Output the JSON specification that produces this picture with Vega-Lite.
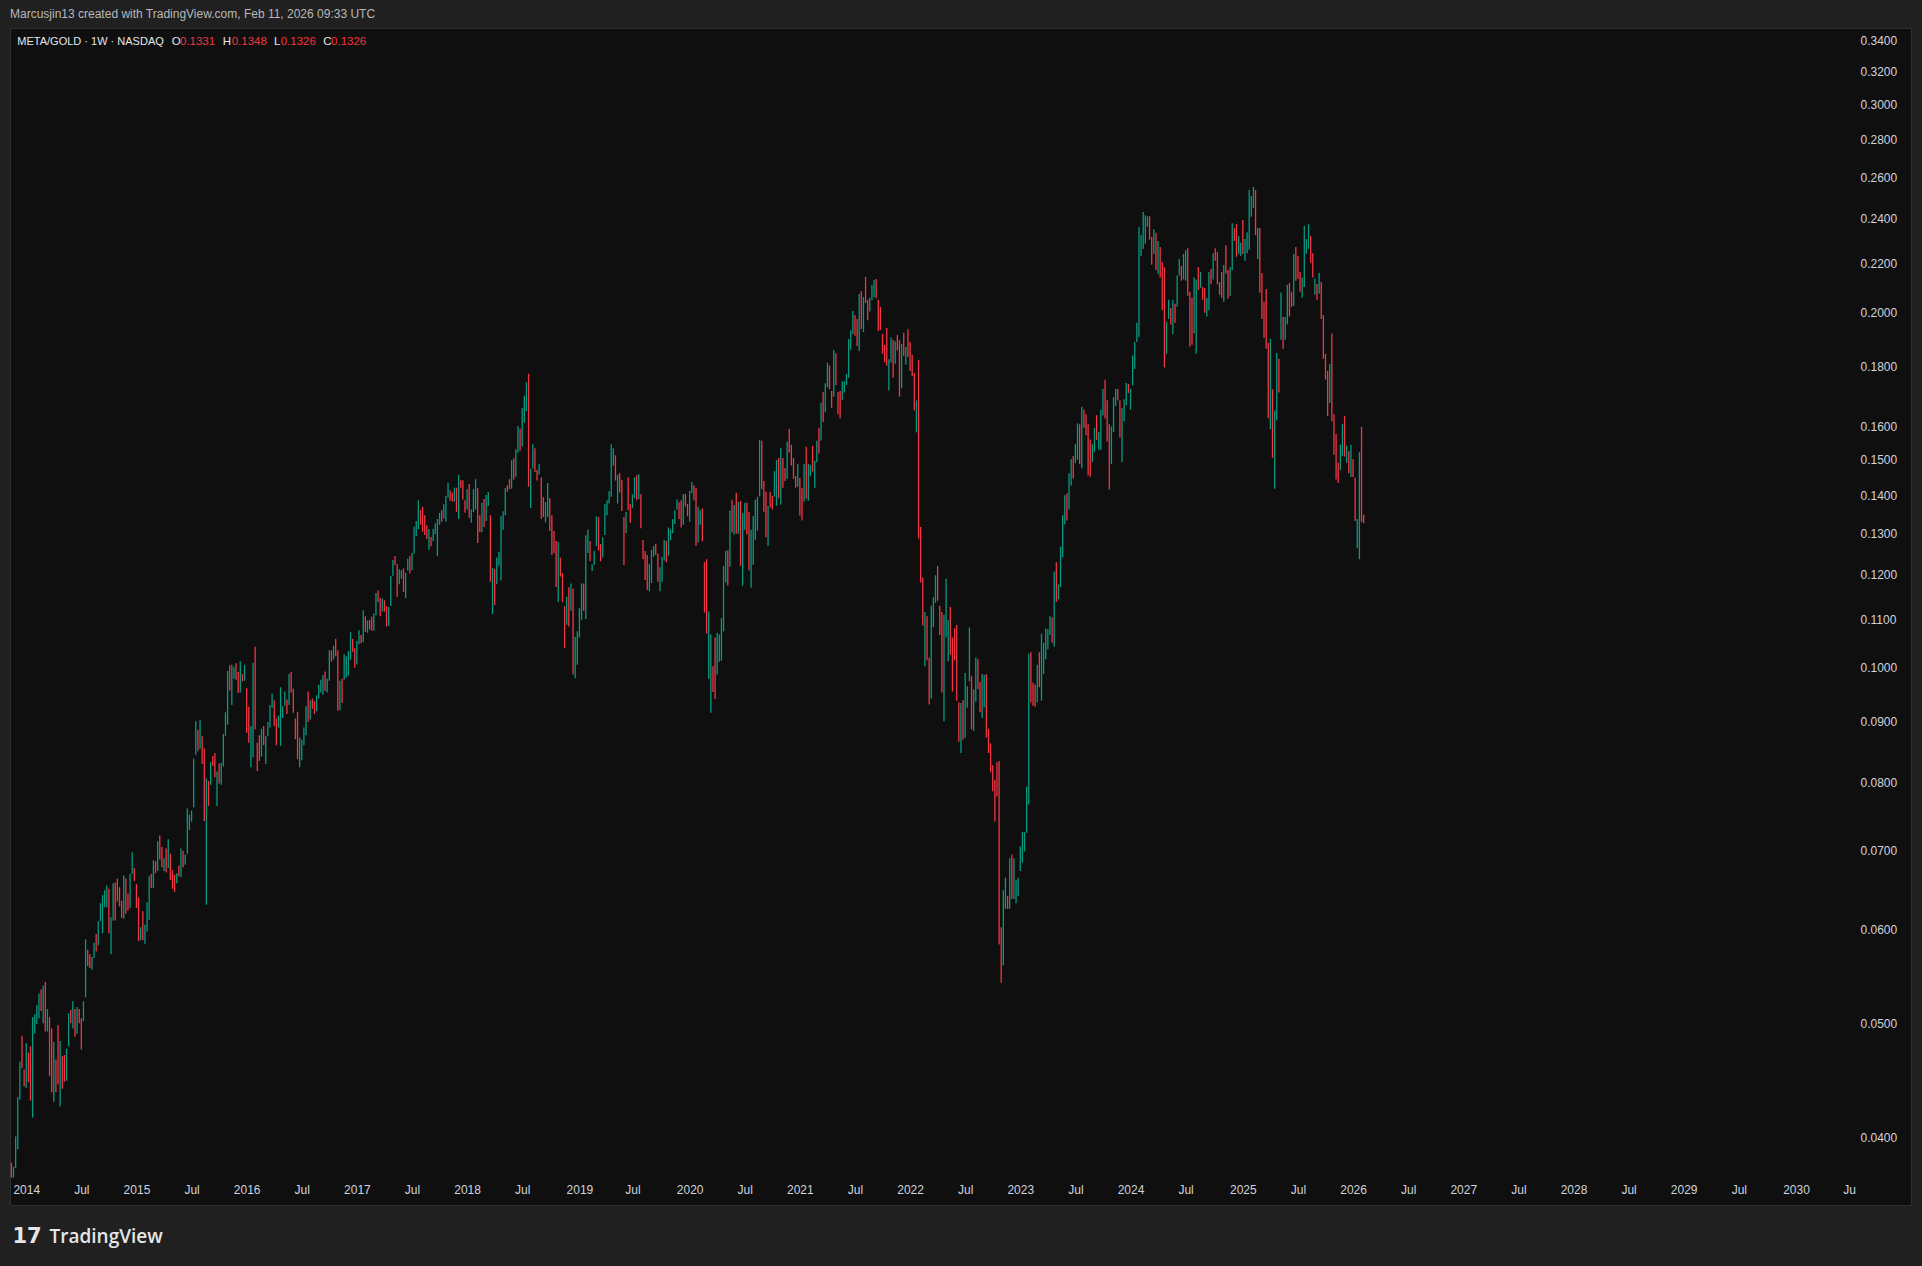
{
"$schema":"https://vega.github.io/schema/vega-lite/v6.json",
"width":1901,"height":1177,
"autosize":{"type":"none"},
"padding":{"left":10,"top":28,"right":11,"bottom":61},
"background":"#202020",
"view":{"fill":"#0f0f0f","stroke":"#2e2e2e"},
"title":{"text":"Marcusjin13 created with TradingView.com, Feb 11, 2026 09:33 UTC","anchor":"start","frame":"group","offset":7,"fontSize":12,"font":"Liberation Sans","fontWeight":"normal","color":"#b8b8b8"},
"config":{"text":{"font":"Liberation Sans","fontSize":11.5,"align":"left","baseline":"middle"}},
"datasets":{"bars":[
{"t":"2013-11-18","o":0.0381,"h":0.0381,"l":0.037,"c":0.037},
{"t":"2013-11-25","o":0.037,"h":0.0378,"l":0.037,"c":0.0378},
{"t":"2013-12-02","o":0.0377,"h":0.0401,"l":0.0377,"c":0.0401},
{"t":"2013-12-09","o":0.0391,"h":0.0433,"l":0.0391,"c":0.0433},
{"t":"2013-12-16","o":0.0431,"h":0.0464,"l":0.0431,"c":0.0464},
{"t":"2013-12-23","o":0.0488,"h":0.0488,"l":0.0458,"c":0.0458},
{"t":"2013-12-30","o":0.0457,"h":0.0457,"l":0.0442,"c":0.0442},
{"t":"2014-01-06","o":0.0441,"h":0.0481,"l":0.0441,"c":0.0481},
{"t":"2014-01-13","o":0.0472,"h":0.0472,"l":0.0446,"c":0.0446},
{"t":"2014-01-20","o":0.0478,"h":0.0478,"l":0.043,"c":0.043},
{"t":"2014-01-27","o":0.0416,"h":0.0506,"l":0.0416,"c":0.0506},
{"t":"2014-02-03","o":0.049,"h":0.0509,"l":0.049,"c":0.0509},
{"t":"2014-02-10","o":0.0499,"h":0.0518,"l":0.0499,"c":0.0518},
{"t":"2014-02-17","o":0.0505,"h":0.053,"l":0.0505,"c":0.053},
{"t":"2014-02-24","o":0.0534,"h":0.0534,"l":0.0512,"c":0.0512},
{"t":"2014-03-03","o":0.05,"h":0.0538,"l":0.05,"c":0.0538},
{"t":"2014-03-10","o":0.0542,"h":0.0542,"l":0.0492,"c":0.0492},
{"t":"2014-03-17","o":0.0492,"h":0.0514,"l":0.0492,"c":0.0514},
{"t":"2014-03-24","o":0.0506,"h":0.0506,"l":0.0451,"c":0.0451},
{"t":"2014-03-31","o":0.0495,"h":0.0495,"l":0.0437,"c":0.0437},
{"t":"2014-04-07","o":0.0429,"h":0.0482,"l":0.0429,"c":0.0482},
{"t":"2014-04-14","o":0.0466,"h":0.0466,"l":0.0437,"c":0.0437},
{"t":"2014-04-21","o":0.0498,"h":0.0498,"l":0.0444,"c":0.0444},
{"t":"2014-04-28","o":0.0425,"h":0.0483,"l":0.0425,"c":0.0483},
{"t":"2014-05-05","o":0.0469,"h":0.0469,"l":0.044,"c":0.044},
{"t":"2014-05-12","o":0.047,"h":0.047,"l":0.0446,"c":0.0446},
{"t":"2014-05-19","o":0.0447,"h":0.0476,"l":0.0447,"c":0.0476},
{"t":"2014-05-26","o":0.0478,"h":0.051,"l":0.0478,"c":0.051},
{"t":"2014-06-02","o":0.0513,"h":0.0513,"l":0.05,"c":0.05},
{"t":"2014-06-09","o":0.0495,"h":0.0522,"l":0.0495,"c":0.0522},
{"t":"2014-06-16","o":0.0514,"h":0.0514,"l":0.0487,"c":0.0487},
{"t":"2014-06-23","o":0.049,"h":0.0516,"l":0.049,"c":0.0516},
{"t":"2014-06-30","o":0.0514,"h":0.0514,"l":0.05,"c":0.05},
{"t":"2014-07-07","o":0.0505,"h":0.0505,"l":0.0475,"c":0.0475},
{"t":"2014-07-14","o":0.0502,"h":0.0522,"l":0.0502,"c":0.0522},
{"t":"2014-07-21","o":0.0526,"h":0.0589,"l":0.0526,"c":0.0589},
{"t":"2014-07-28","o":0.0577,"h":0.0577,"l":0.0559,"c":0.0559},
{"t":"2014-08-04","o":0.0572,"h":0.0572,"l":0.0557,"c":0.0557},
{"t":"2014-08-11","o":0.0555,"h":0.0569,"l":0.0555,"c":0.0569},
{"t":"2014-08-18","o":0.0568,"h":0.0585,"l":0.0568,"c":0.0585},
{"t":"2014-08-25","o":0.0595,"h":0.0595,"l":0.0575,"c":0.0575},
{"t":"2014-09-01","o":0.0582,"h":0.061,"l":0.0582,"c":0.061},
{"t":"2014-09-08","o":0.061,"h":0.0632,"l":0.061,"c":0.0632},
{"t":"2014-09-15","o":0.0596,"h":0.0642,"l":0.0596,"c":0.0642},
{"t":"2014-09-22","o":0.0627,"h":0.0648,"l":0.0627,"c":0.0648},
{"t":"2014-09-29","o":0.0627,"h":0.0654,"l":0.0627,"c":0.0654},
{"t":"2014-10-06","o":0.065,"h":0.065,"l":0.0596,"c":0.0596},
{"t":"2014-10-13","o":0.0572,"h":0.0615,"l":0.0572,"c":0.0615},
{"t":"2014-10-20","o":0.0611,"h":0.0657,"l":0.0611,"c":0.0657},
{"t":"2014-10-27","o":0.0658,"h":0.0658,"l":0.0611,"c":0.0611},
{"t":"2014-11-03","o":0.0663,"h":0.0663,"l":0.0634,"c":0.0634},
{"t":"2014-11-10","o":0.0652,"h":0.0652,"l":0.0628,"c":0.0628},
{"t":"2014-11-17","o":0.0635,"h":0.0635,"l":0.0614,"c":0.0614},
{"t":"2014-11-24","o":0.0613,"h":0.0667,"l":0.0613,"c":0.0667},
{"t":"2014-12-01","o":0.0663,"h":0.0663,"l":0.0619,"c":0.0619},
{"t":"2014-12-08","o":0.0644,"h":0.0644,"l":0.0623,"c":0.0623},
{"t":"2014-12-15","o":0.0626,"h":0.0669,"l":0.0626,"c":0.0669},
{"t":"2014-12-22","o":0.0669,"h":0.0698,"l":0.0669,"c":0.0698},
{"t":"2014-12-29","o":0.0677,"h":0.0677,"l":0.066,"c":0.066},
{"t":"2015-01-05","o":0.0656,"h":0.0656,"l":0.0626,"c":0.0626},
{"t":"2015-01-12","o":0.0639,"h":0.0639,"l":0.0587,"c":0.0587},
{"t":"2015-01-19","o":0.0588,"h":0.0603,"l":0.0588,"c":0.0603},
{"t":"2015-01-26","o":0.0622,"h":0.0622,"l":0.0588,"c":0.0588},
{"t":"2015-02-02","o":0.0584,"h":0.0606,"l":0.0584,"c":0.0606},
{"t":"2015-02-09","o":0.0598,"h":0.0633,"l":0.0598,"c":0.0633},
{"t":"2015-02-16","o":0.0612,"h":0.0666,"l":0.0612,"c":0.0666},
{"t":"2015-02-23","o":0.0669,"h":0.0669,"l":0.0651,"c":0.0651},
{"t":"2015-03-02","o":0.0651,"h":0.0687,"l":0.0651,"c":0.0687},
{"t":"2015-03-09","o":0.0686,"h":0.0686,"l":0.067,"c":0.067},
{"t":"2015-03-16","o":0.0673,"h":0.0713,"l":0.0673,"c":0.0713},
{"t":"2015-03-23","o":0.0721,"h":0.0721,"l":0.0688,"c":0.0688},
{"t":"2015-03-30","o":0.0705,"h":0.0705,"l":0.0678,"c":0.0678},
{"t":"2015-04-06","o":0.0673,"h":0.069,"l":0.0673,"c":0.069},
{"t":"2015-04-13","o":0.0703,"h":0.0703,"l":0.0671,"c":0.0671},
{"t":"2015-04-20","o":0.0677,"h":0.0716,"l":0.0677,"c":0.0716},
{"t":"2015-04-27","o":0.0696,"h":0.0696,"l":0.0661,"c":0.0661},
{"t":"2015-05-04","o":0.0674,"h":0.0674,"l":0.065,"c":0.065},
{"t":"2015-05-11","o":0.0668,"h":0.0668,"l":0.0646,"c":0.0646},
{"t":"2015-05-18","o":0.0657,"h":0.067,"l":0.0657,"c":0.067},
{"t":"2015-05-25","o":0.068,"h":0.068,"l":0.0666,"c":0.0666},
{"t":"2015-06-01","o":0.0665,"h":0.0703,"l":0.0665,"c":0.0703},
{"t":"2015-06-08","o":0.07,"h":0.07,"l":0.0678,"c":0.0678},
{"t":"2015-06-15","o":0.0681,"h":0.0695,"l":0.0681,"c":0.0695},
{"t":"2015-06-22","o":0.0696,"h":0.076,"l":0.0696,"c":0.076},
{"t":"2015-06-29","o":0.0729,"h":0.0751,"l":0.0729,"c":0.0751},
{"t":"2015-07-06","o":0.0741,"h":0.0757,"l":0.0741,"c":0.0757},
{"t":"2015-07-13","o":0.0762,"h":0.0838,"l":0.0762,"c":0.0838},
{"t":"2015-07-20","o":0.0844,"h":0.0901,"l":0.0844,"c":0.0901},
{"t":"2015-07-27","o":0.0886,"h":0.0886,"l":0.085,"c":0.085},
{"t":"2015-08-03","o":0.0854,"h":0.0903,"l":0.0854,"c":0.0903},
{"t":"2015-08-10","o":0.0875,"h":0.0875,"l":0.0829,"c":0.0829},
{"t":"2015-08-17","o":0.0855,"h":0.0855,"l":0.0742,"c":0.0742},
{"t":"2015-08-24","o":0.063,"h":0.0806,"l":0.063,"c":0.0806},
{"t":"2015-08-31","o":0.0802,"h":0.0802,"l":0.0764,"c":0.0764},
{"t":"2015-09-07","o":0.0796,"h":0.0832,"l":0.0796,"c":0.0832},
{"t":"2015-09-14","o":0.0842,"h":0.0842,"l":0.0826,"c":0.0826},
{"t":"2015-09-21","o":0.0847,"h":0.0847,"l":0.0808,"c":0.0808},
{"t":"2015-09-28","o":0.0764,"h":0.0817,"l":0.0764,"c":0.0817},
{"t":"2015-10-05","o":0.083,"h":0.083,"l":0.0798,"c":0.0798},
{"t":"2015-10-12","o":0.0796,"h":0.0831,"l":0.0796,"c":0.0831},
{"t":"2015-10-19","o":0.0825,"h":0.0879,"l":0.0825,"c":0.0879},
{"t":"2015-10-26","o":0.0876,"h":0.0917,"l":0.0876,"c":0.0917},
{"t":"2015-11-02","o":0.0895,"h":0.0994,"l":0.0895,"c":0.0994},
{"t":"2015-11-09","o":0.1005,"h":0.1005,"l":0.0957,"c":0.0957},
{"t":"2015-11-16","o":0.093,"h":0.1006,"l":0.093,"c":0.1006},
{"t":"2015-11-23","o":0.0979,"h":0.1002,"l":0.0979,"c":0.1002},
{"t":"2015-11-30","o":0.1009,"h":0.1009,"l":0.0977,"c":0.0977},
{"t":"2015-12-07","o":0.0992,"h":0.0992,"l":0.0952,"c":0.0952},
{"t":"2015-12-14","o":0.0953,"h":0.1013,"l":0.0953,"c":0.1013},
{"t":"2015-12-21","o":0.0988,"h":0.0988,"l":0.0974,"c":0.0974},
{"t":"2015-12-28","o":0.0975,"h":0.1006,"l":0.0975,"c":0.1006},
{"t":"2016-01-04","o":0.0961,"h":0.0961,"l":0.0881,"c":0.0881},
{"t":"2016-01-11","o":0.0927,"h":0.0927,"l":0.0864,"c":0.0864},
{"t":"2016-01-18","o":0.0824,"h":0.0893,"l":0.0824,"c":0.0893},
{"t":"2016-01-25","o":0.084,"h":0.101,"l":0.084,"c":0.101},
{"t":"2016-02-01","o":0.1042,"h":0.1042,"l":0.0887,"c":0.0887},
{"t":"2016-02-08","o":0.0864,"h":0.0864,"l":0.0818,"c":0.0818},
{"t":"2016-02-15","o":0.0877,"h":0.0877,"l":0.0834,"c":0.0834},
{"t":"2016-02-22","o":0.0841,"h":0.0888,"l":0.0841,"c":0.0888},
{"t":"2016-02-29","o":0.0893,"h":0.0893,"l":0.086,"c":0.086},
{"t":"2016-03-07","o":0.0829,"h":0.0876,"l":0.0829,"c":0.0876},
{"t":"2016-03-14","o":0.0875,"h":0.09,"l":0.0875,"c":0.09},
{"t":"2016-03-21","o":0.089,"h":0.093,"l":0.089,"c":0.093},
{"t":"2016-03-28","o":0.0925,"h":0.0951,"l":0.0925,"c":0.0951},
{"t":"2016-04-04","o":0.0939,"h":0.0939,"l":0.0893,"c":0.0893},
{"t":"2016-04-11","o":0.0906,"h":0.0906,"l":0.086,"c":0.086},
{"t":"2016-04-18","o":0.089,"h":0.0911,"l":0.089,"c":0.0911},
{"t":"2016-04-25","o":0.0859,"h":0.0963,"l":0.0859,"c":0.0963},
{"t":"2016-05-02","o":0.0907,"h":0.0928,"l":0.0907,"c":0.0928},
{"t":"2016-05-09","o":0.0929,"h":0.0955,"l":0.0929,"c":0.0955},
{"t":"2016-05-16","o":0.094,"h":0.094,"l":0.0914,"c":0.0914},
{"t":"2016-05-23","o":0.093,"h":0.0988,"l":0.093,"c":0.0988},
{"t":"2016-05-30","o":0.0992,"h":0.0992,"l":0.0953,"c":0.0953},
{"t":"2016-06-06","o":0.096,"h":0.096,"l":0.0916,"c":0.0916},
{"t":"2016-06-13","o":0.0906,"h":0.0906,"l":0.087,"c":0.087},
{"t":"2016-06-20","o":0.0918,"h":0.0918,"l":0.0837,"c":0.0837},
{"t":"2016-06-27","o":0.0824,"h":0.0873,"l":0.0824,"c":0.0873},
{"t":"2016-07-04","o":0.0835,"h":0.0869,"l":0.0835,"c":0.0869},
{"t":"2016-07-11","o":0.086,"h":0.089,"l":0.086,"c":0.089},
{"t":"2016-07-18","o":0.0877,"h":0.0928,"l":0.0877,"c":0.0928},
{"t":"2016-07-25","o":0.0955,"h":0.0955,"l":0.09,"c":0.09},
{"t":"2016-08-01","o":0.0904,"h":0.0939,"l":0.0904,"c":0.0939},
{"t":"2016-08-08","o":0.0942,"h":0.0942,"l":0.0923,"c":0.0923},
{"t":"2016-08-15","o":0.0937,"h":0.0937,"l":0.0914,"c":0.0914},
{"t":"2016-08-22","o":0.0919,"h":0.0948,"l":0.0919,"c":0.0948},
{"t":"2016-08-29","o":0.0942,"h":0.0967,"l":0.0942,"c":0.0967},
{"t":"2016-09-05","o":0.0953,"h":0.0977,"l":0.0953,"c":0.0977},
{"t":"2016-09-12","o":0.0949,"h":0.0986,"l":0.0949,"c":0.0986},
{"t":"2016-09-19","o":0.0993,"h":0.0993,"l":0.0956,"c":0.0956},
{"t":"2016-09-26","o":0.0953,"h":0.0979,"l":0.0953,"c":0.0979},
{"t":"2016-10-03","o":0.0975,"h":0.1035,"l":0.0975,"c":0.1035},
{"t":"2016-10-10","o":0.1035,"h":0.1035,"l":0.1012,"c":0.1012},
{"t":"2016-10-17","o":0.1017,"h":0.1044,"l":0.1017,"c":0.1044},
{"t":"2016-10-24","o":0.1058,"h":0.1058,"l":0.1023,"c":0.1023},
{"t":"2016-10-31","o":0.1035,"h":0.1035,"l":0.092,"c":0.092},
{"t":"2016-11-07","o":0.0921,"h":0.0975,"l":0.0921,"c":0.0975},
{"t":"2016-11-14","o":0.0979,"h":0.0979,"l":0.0934,"c":0.0934},
{"t":"2016-11-21","o":0.0977,"h":0.1027,"l":0.0977,"c":0.1027},
{"t":"2016-11-28","o":0.0981,"h":0.1023,"l":0.0981,"c":0.1023},
{"t":"2016-12-05","o":0.0985,"h":0.1033,"l":0.0985,"c":0.1033},
{"t":"2016-12-12","o":0.1016,"h":0.1072,"l":0.1016,"c":0.1072},
{"t":"2016-12-19","o":0.1058,"h":0.1058,"l":0.1032,"c":0.1032},
{"t":"2016-12-26","o":0.1039,"h":0.1039,"l":0.1,"c":0.1},
{"t":"2017-01-02","o":0.1007,"h":0.1054,"l":0.1007,"c":0.1054},
{"t":"2017-01-09","o":0.1047,"h":0.1076,"l":0.1047,"c":0.1076},
{"t":"2017-01-16","o":0.1066,"h":0.1066,"l":0.1049,"c":0.1049},
{"t":"2017-01-23","o":0.1052,"h":0.1119,"l":0.1052,"c":0.1119},
{"t":"2017-01-30","o":0.1106,"h":0.1106,"l":0.1073,"c":0.1073},
{"t":"2017-02-06","o":0.1071,"h":0.1097,"l":0.1071,"c":0.1097},
{"t":"2017-02-13","o":0.1098,"h":0.1098,"l":0.1078,"c":0.1078},
{"t":"2017-02-20","o":0.1105,"h":0.1105,"l":0.1075,"c":0.1075},
{"t":"2017-02-27","o":0.1075,"h":0.1112,"l":0.1075,"c":0.1112},
{"t":"2017-03-06","o":0.1108,"h":0.1157,"l":0.1108,"c":0.1157},
{"t":"2017-03-13","o":0.1163,"h":0.1163,"l":0.1137,"c":0.1137},
{"t":"2017-03-20","o":0.1146,"h":0.1146,"l":0.1106,"c":0.1106},
{"t":"2017-03-27","o":0.1116,"h":0.1145,"l":0.1116,"c":0.1145},
{"t":"2017-04-03","o":0.1141,"h":0.1141,"l":0.1116,"c":0.1116},
{"t":"2017-04-10","o":0.1128,"h":0.1128,"l":0.1084,"c":0.1084},
{"t":"2017-04-17","o":0.1085,"h":0.1126,"l":0.1085,"c":0.1126},
{"t":"2017-04-24","o":0.1128,"h":0.1196,"l":0.1128,"c":0.1196},
{"t":"2017-05-01","o":0.1196,"h":0.1234,"l":0.1196,"c":0.1234},
{"t":"2017-05-08","o":0.1244,"h":0.1244,"l":0.1222,"c":0.1222},
{"t":"2017-05-15","o":0.1224,"h":0.1224,"l":0.1149,"c":0.1149},
{"t":"2017-05-22","o":0.1177,"h":0.1212,"l":0.1177,"c":0.1212},
{"t":"2017-05-29","o":0.119,"h":0.121,"l":0.119,"c":0.121},
{"t":"2017-06-05","o":0.1214,"h":0.1214,"l":0.116,"c":0.116},
{"t":"2017-06-12","o":0.1146,"h":0.1204,"l":0.1146,"c":0.1204},
{"t":"2017-06-19","o":0.1209,"h":0.1237,"l":0.1209,"c":0.1237},
{"t":"2017-06-26","o":0.1244,"h":0.1244,"l":0.1202,"c":0.1202},
{"t":"2017-07-03","o":0.121,"h":0.1252,"l":0.121,"c":0.1252},
{"t":"2017-07-10","o":0.1249,"h":0.1317,"l":0.1249,"c":0.1317},
{"t":"2017-07-17","o":0.1293,"h":0.1332,"l":0.1293,"c":0.1332},
{"t":"2017-07-24","o":0.1311,"h":0.1387,"l":0.1311,"c":0.1387},
{"t":"2017-07-31","o":0.136,"h":0.136,"l":0.1322,"c":0.1322},
{"t":"2017-08-07","o":0.1369,"h":0.1369,"l":0.1304,"c":0.1304},
{"t":"2017-08-14","o":0.1347,"h":0.1347,"l":0.1296,"c":0.1296},
{"t":"2017-08-21","o":0.1321,"h":0.1321,"l":0.1286,"c":0.1286},
{"t":"2017-08-28","o":0.1259,"h":0.1311,"l":0.1259,"c":0.1311},
{"t":"2017-09-04","o":0.1291,"h":0.1291,"l":0.1268,"c":0.1268},
{"t":"2017-09-11","o":0.128,"h":0.1311,"l":0.128,"c":0.1311},
{"t":"2017-09-18","o":0.1298,"h":0.1326,"l":0.1298,"c":0.1326},
{"t":"2017-09-25","o":0.1244,"h":0.1337,"l":0.1244,"c":0.1337},
{"t":"2017-10-02","o":0.1321,"h":0.1353,"l":0.1321,"c":0.1353},
{"t":"2017-10-09","o":0.136,"h":0.136,"l":0.133,"c":0.133},
{"t":"2017-10-16","o":0.1338,"h":0.1376,"l":0.1338,"c":0.1376},
{"t":"2017-10-23","o":0.133,"h":0.1398,"l":0.133,"c":0.1398},
{"t":"2017-10-30","o":0.1394,"h":0.1435,"l":0.1394,"c":0.1435},
{"t":"2017-11-06","o":0.1414,"h":0.1414,"l":0.1385,"c":0.1385},
{"t":"2017-11-13","o":0.1407,"h":0.1407,"l":0.1383,"c":0.1383},
{"t":"2017-11-20","o":0.1383,"h":0.1421,"l":0.1383,"c":0.1421},
{"t":"2017-11-27","o":0.1421,"h":0.1421,"l":0.1356,"c":0.1356},
{"t":"2017-12-04","o":0.1337,"h":0.1457,"l":0.1337,"c":0.1457},
{"t":"2017-12-11","o":0.1442,"h":0.1442,"l":0.1421,"c":0.1421},
{"t":"2017-12-18","o":0.1442,"h":0.1442,"l":0.1389,"c":0.1389},
{"t":"2017-12-25","o":0.1387,"h":0.1387,"l":0.1353,"c":0.1353},
{"t":"2018-01-01","o":0.1362,"h":0.1417,"l":0.1362,"c":0.1417},
{"t":"2018-01-08","o":0.1431,"h":0.1431,"l":0.134,"c":0.134},
{"t":"2018-01-15","o":0.1327,"h":0.1362,"l":0.1327,"c":0.1362},
{"t":"2018-01-22","o":0.1355,"h":0.1417,"l":0.1355,"c":0.1417},
{"t":"2018-01-29","o":0.1362,"h":0.1445,"l":0.1362,"c":0.1445},
{"t":"2018-02-05","o":0.142,"h":0.142,"l":0.1276,"c":0.1276},
{"t":"2018-02-12","o":0.1347,"h":0.1347,"l":0.1303,"c":0.1303},
{"t":"2018-02-19","o":0.1303,"h":0.1379,"l":0.1303,"c":0.1379},
{"t":"2018-02-26","o":0.139,"h":0.139,"l":0.1316,"c":0.1316},
{"t":"2018-03-05","o":0.1331,"h":0.1401,"l":0.1331,"c":0.1401},
{"t":"2018-03-12","o":0.1371,"h":0.1409,"l":0.1371,"c":0.1409},
{"t":"2018-03-19","o":0.1347,"h":0.1347,"l":0.1183,"c":0.1183},
{"t":"2018-03-26","o":0.1111,"h":0.1215,"l":0.1111,"c":0.1215},
{"t":"2018-04-02","o":0.1212,"h":0.1212,"l":0.113,"c":0.113},
{"t":"2018-04-09","o":0.1178,"h":0.124,"l":0.1178,"c":0.124},
{"t":"2018-04-16","o":0.1221,"h":0.1254,"l":0.1221,"c":0.1254},
{"t":"2018-04-23","o":0.1186,"h":0.1344,"l":0.1186,"c":0.1344},
{"t":"2018-04-30","o":0.1309,"h":0.1357,"l":0.1309,"c":0.1357},
{"t":"2018-05-07","o":0.1347,"h":0.142,"l":0.1347,"c":0.142},
{"t":"2018-05-14","o":0.1428,"h":0.1428,"l":0.141,"c":0.141},
{"t":"2018-05-21","o":0.1445,"h":0.1445,"l":0.1417,"c":0.1417},
{"t":"2018-05-28","o":0.1418,"h":0.1499,"l":0.1418,"c":0.1499},
{"t":"2018-06-04","o":0.1505,"h":0.1505,"l":0.1443,"c":0.1443},
{"t":"2018-06-11","o":0.1452,"h":0.1532,"l":0.1452,"c":0.1532},
{"t":"2018-06-18","o":0.1521,"h":0.1603,"l":0.1521,"c":0.1603},
{"t":"2018-06-25","o":0.1594,"h":0.1594,"l":0.1527,"c":0.1527},
{"t":"2018-07-02","o":0.154,"h":0.166,"l":0.154,"c":0.166},
{"t":"2018-07-09","o":0.1613,"h":0.17,"l":0.1613,"c":0.17},
{"t":"2018-07-16","o":0.165,"h":0.1745,"l":0.165,"c":0.1745},
{"t":"2018-07-23","o":0.1775,"h":0.1775,"l":0.1424,"c":0.1424},
{"t":"2018-07-30","o":0.1366,"h":0.1474,"l":0.1366,"c":0.1474},
{"t":"2018-08-06","o":0.1475,"h":0.1547,"l":0.1475,"c":0.1547},
{"t":"2018-08-13","o":0.1535,"h":0.1535,"l":0.1465,"c":0.1465},
{"t":"2018-08-20","o":0.1471,"h":0.1471,"l":0.1441,"c":0.1441},
{"t":"2018-08-27","o":0.1458,"h":0.1488,"l":0.1458,"c":0.1488},
{"t":"2018-09-03","o":0.145,"h":0.145,"l":0.1337,"c":0.1337},
{"t":"2018-09-10","o":0.1395,"h":0.1395,"l":0.1342,"c":0.1342},
{"t":"2018-09-17","o":0.1328,"h":0.1382,"l":0.1328,"c":0.1382},
{"t":"2018-09-24","o":0.1342,"h":0.1434,"l":0.1342,"c":0.1434},
{"t":"2018-10-01","o":0.1392,"h":0.1392,"l":0.1306,"c":0.1306},
{"t":"2018-10-08","o":0.1347,"h":0.1347,"l":0.1246,"c":0.1246},
{"t":"2018-10-15","o":0.1306,"h":0.1306,"l":0.1251,"c":0.1251},
{"t":"2018-10-22","o":0.1281,"h":0.1281,"l":0.1171,"c":0.1171},
{"t":"2018-10-29","o":0.1137,"h":0.1278,"l":0.1137,"c":0.1278},
{"t":"2018-11-05","o":0.124,"h":0.124,"l":0.1195,"c":0.1195},
{"t":"2018-11-12","o":0.1203,"h":0.1203,"l":0.1137,"c":0.1137},
{"t":"2018-11-19","o":0.1128,"h":0.1128,"l":0.104,"c":0.104},
{"t":"2018-11-26","o":0.1088,"h":0.1149,"l":0.1088,"c":0.1149},
{"t":"2018-12-03","o":0.117,"h":0.117,"l":0.1084,"c":0.1084},
{"t":"2018-12-10","o":0.1118,"h":0.1179,"l":0.1118,"c":0.1179},
{"t":"2018-12-17","o":0.1167,"h":0.1167,"l":0.0987,"c":0.0987},
{"t":"2018-12-24","o":0.098,"h":0.1062,"l":0.098,"c":0.1062},
{"t":"2018-12-31","o":0.1006,"h":0.1074,"l":0.1006,"c":0.1074},
{"t":"2019-01-07","o":0.1061,"h":0.1124,"l":0.1061,"c":0.1124},
{"t":"2019-01-14","o":0.1098,"h":0.1179,"l":0.1098,"c":0.1179},
{"t":"2019-01-21","o":0.1179,"h":0.1179,"l":0.1118,"c":0.1118},
{"t":"2019-01-28","o":0.11,"h":0.1295,"l":0.11,"c":0.1295},
{"t":"2019-02-04","o":0.1251,"h":0.131,"l":0.1251,"c":0.131},
{"t":"2019-02-11","o":0.1281,"h":0.1281,"l":0.1231,"c":0.1231},
{"t":"2019-02-18","o":0.1208,"h":0.1224,"l":0.1208,"c":0.1224},
{"t":"2019-02-25","o":0.1222,"h":0.1256,"l":0.1222,"c":0.1256},
{"t":"2019-03-04","o":0.1268,"h":0.1344,"l":0.1268,"c":0.1344},
{"t":"2019-03-11","o":0.1342,"h":0.1342,"l":0.1257,"c":0.1257},
{"t":"2019-03-18","o":0.1273,"h":0.1273,"l":0.1231,"c":0.1231},
{"t":"2019-03-25","o":0.124,"h":0.129,"l":0.124,"c":0.129},
{"t":"2019-04-01","o":0.1296,"h":0.1376,"l":0.1296,"c":0.1376},
{"t":"2019-04-08","o":0.1347,"h":0.1387,"l":0.1347,"c":0.1387},
{"t":"2019-04-15","o":0.1378,"h":0.1411,"l":0.1378,"c":0.1411},
{"t":"2019-04-22","o":0.1396,"h":0.1547,"l":0.1396,"c":0.1547},
{"t":"2019-04-29","o":0.1483,"h":0.1535,"l":0.1483,"c":0.1535},
{"t":"2019-05-06","o":0.1514,"h":0.1514,"l":0.1441,"c":0.1441},
{"t":"2019-05-13","o":0.1378,"h":0.1457,"l":0.1378,"c":0.1457},
{"t":"2019-05-20","o":0.1462,"h":0.1462,"l":0.1408,"c":0.1408},
{"t":"2019-05-27","o":0.1443,"h":0.1443,"l":0.1358,"c":0.1358},
{"t":"2019-06-03","o":0.1342,"h":0.1342,"l":0.1222,"c":0.1222},
{"t":"2019-06-10","o":0.1301,"h":0.1355,"l":0.1301,"c":0.1355},
{"t":"2019-06-17","o":0.145,"h":0.145,"l":0.136,"c":0.136},
{"t":"2019-06-24","o":0.1376,"h":0.1376,"l":0.1327,"c":0.1327},
{"t":"2019-07-01","o":0.1366,"h":0.1403,"l":0.1366,"c":0.1403},
{"t":"2019-07-08","o":0.1393,"h":0.145,"l":0.1393,"c":0.145},
{"t":"2019-07-15","o":0.1456,"h":0.1456,"l":0.1387,"c":0.1387},
{"t":"2019-07-22","o":0.139,"h":0.1459,"l":0.139,"c":0.1459},
{"t":"2019-07-29","o":0.1403,"h":0.1403,"l":0.1313,"c":0.1313},
{"t":"2019-08-05","o":0.1283,"h":0.1283,"l":0.1236,"c":0.1236},
{"t":"2019-08-12","o":0.1256,"h":0.1256,"l":0.1187,"c":0.1187},
{"t":"2019-08-19","o":0.1246,"h":0.1246,"l":0.1164,"c":0.1164},
{"t":"2019-08-26","o":0.1161,"h":0.1224,"l":0.1161,"c":0.1224},
{"t":"2019-09-02","o":0.118,"h":0.1259,"l":0.118,"c":0.1259},
{"t":"2019-09-09","o":0.1242,"h":0.1268,"l":0.1242,"c":0.1268},
{"t":"2019-09-16","o":0.1273,"h":0.1273,"l":0.1246,"c":0.1246},
{"t":"2019-09-23","o":0.1249,"h":0.1249,"l":0.1183,"c":0.1183},
{"t":"2019-09-30","o":0.1161,"h":0.1217,"l":0.1161,"c":0.1217},
{"t":"2019-10-07","o":0.1183,"h":0.1242,"l":0.1183,"c":0.1242},
{"t":"2019-10-14","o":0.1233,"h":0.1283,"l":0.1233,"c":0.1283},
{"t":"2019-10-21","o":0.1281,"h":0.1281,"l":0.1229,"c":0.1229},
{"t":"2019-10-28","o":0.1245,"h":0.1315,"l":0.1245,"c":0.1315},
{"t":"2019-11-04","o":0.1283,"h":0.131,"l":0.1283,"c":0.131},
{"t":"2019-11-11","o":0.13,"h":0.1336,"l":0.13,"c":0.1336},
{"t":"2019-11-18","o":0.1324,"h":0.136,"l":0.1324,"c":0.136},
{"t":"2019-11-25","o":0.1362,"h":0.1389,"l":0.1362,"c":0.1389},
{"t":"2019-12-02","o":0.1381,"h":0.1381,"l":0.1337,"c":0.1337},
{"t":"2019-12-09","o":0.1387,"h":0.1387,"l":0.1315,"c":0.1315},
{"t":"2019-12-16","o":0.1322,"h":0.1403,"l":0.1322,"c":0.1403},
{"t":"2019-12-23","o":0.1404,"h":0.1404,"l":0.137,"c":0.137},
{"t":"2019-12-30","o":0.1377,"h":0.1377,"l":0.1344,"c":0.1344},
{"t":"2020-01-06","o":0.133,"h":0.1412,"l":0.133,"c":0.1412},
{"t":"2020-01-13","o":0.1406,"h":0.1437,"l":0.1406,"c":0.1437},
{"t":"2020-01-20","o":0.1428,"h":0.1428,"l":0.1386,"c":0.1386},
{"t":"2020-01-27","o":0.1421,"h":0.1421,"l":0.1269,"c":0.1269},
{"t":"2020-02-03","o":0.1277,"h":0.1369,"l":0.1277,"c":0.1369},
{"t":"2020-02-10","o":0.1322,"h":0.1359,"l":0.1322,"c":0.1359},
{"t":"2020-02-17","o":0.1364,"h":0.1364,"l":0.128,"c":0.128},
{"t":"2020-02-24","o":0.1229,"h":0.1229,"l":0.1114,"c":0.1114},
{"t":"2020-03-02","o":0.1236,"h":0.1236,"l":0.1069,"c":0.1069},
{"t":"2020-03-09","o":0.0979,"h":0.1116,"l":0.0979,"c":0.1116},
{"t":"2020-03-16","o":0.0916,"h":0.1067,"l":0.0916,"c":0.1067},
{"t":"2020-03-23","o":0.1003,"h":0.1003,"l":0.0954,"c":0.0954},
{"t":"2020-03-30","o":0.1061,"h":0.1061,"l":0.0941,"c":0.0941},
{"t":"2020-04-06","o":0.0987,"h":0.1071,"l":0.0987,"c":0.1071},
{"t":"2020-04-13","o":0.1012,"h":0.1067,"l":0.1012,"c":0.1067},
{"t":"2020-04-20","o":0.1014,"h":0.1102,"l":0.1014,"c":0.1102},
{"t":"2020-04-27","o":0.1074,"h":0.122,"l":0.1074,"c":0.122},
{"t":"2020-05-04","o":0.1181,"h":0.1256,"l":0.1181,"c":0.1256},
{"t":"2020-05-11","o":0.1258,"h":0.1258,"l":0.1174,"c":0.1174},
{"t":"2020-05-18","o":0.1218,"h":0.1359,"l":0.1218,"c":0.1359},
{"t":"2020-05-25","o":0.1388,"h":0.1388,"l":0.1302,"c":0.1302},
{"t":"2020-06-01","o":0.1297,"h":0.1374,"l":0.1297,"c":0.1374},
{"t":"2020-06-08","o":0.1407,"h":0.1407,"l":0.1299,"c":0.1299},
{"t":"2020-06-15","o":0.1299,"h":0.1382,"l":0.1299,"c":0.1382},
{"t":"2020-06-22","o":0.1385,"h":0.1385,"l":0.122,"c":0.122},
{"t":"2020-06-29","o":0.1174,"h":0.1352,"l":0.1174,"c":0.1352},
{"t":"2020-07-06","o":0.1309,"h":0.138,"l":0.1309,"c":0.138},
{"t":"2020-07-13","o":0.138,"h":0.138,"l":0.1297,"c":0.1297},
{"t":"2020-07-20","o":0.1355,"h":0.1355,"l":0.1209,"c":0.1209},
{"t":"2020-07-27","o":0.1169,"h":0.1309,"l":0.1169,"c":0.1309},
{"t":"2020-08-03","o":0.1223,"h":0.1345,"l":0.1223,"c":0.1345},
{"t":"2020-08-10","o":0.1284,"h":0.1388,"l":0.1284,"c":0.1388},
{"t":"2020-08-17","o":0.1307,"h":0.1396,"l":0.1307,"c":0.1396},
{"t":"2020-08-24","o":0.1397,"h":0.156,"l":0.1397,"c":0.156},
{"t":"2020-08-31","o":0.1557,"h":0.1557,"l":0.1417,"c":0.1417},
{"t":"2020-09-07","o":0.144,"h":0.144,"l":0.1356,"c":0.1356},
{"t":"2020-09-14","o":0.141,"h":0.141,"l":0.129,"c":0.129},
{"t":"2020-09-21","o":0.1269,"h":0.1371,"l":0.1269,"c":0.1371},
{"t":"2020-09-28","o":0.141,"h":0.141,"l":0.1367,"c":0.1367},
{"t":"2020-10-05","o":0.1399,"h":0.1399,"l":0.1362,"c":0.1362},
{"t":"2020-10-12","o":0.1396,"h":0.1468,"l":0.1396,"c":0.1468},
{"t":"2020-10-19","o":0.1372,"h":0.15,"l":0.1372,"c":0.15},
{"t":"2020-10-26","o":0.1506,"h":0.1506,"l":0.1392,"c":0.1392},
{"t":"2020-11-02","o":0.1375,"h":0.1535,"l":0.1375,"c":0.1535},
{"t":"2020-11-09","o":0.1506,"h":0.1506,"l":0.1421,"c":0.1421},
{"t":"2020-11-16","o":0.1477,"h":0.1477,"l":0.144,"c":0.144},
{"t":"2020-11-23","o":0.1446,"h":0.1554,"l":0.1446,"c":0.1554},
{"t":"2020-11-30","o":0.1594,"h":0.1594,"l":0.1522,"c":0.1522},
{"t":"2020-12-07","o":0.1545,"h":0.1545,"l":0.1484,"c":0.1484},
{"t":"2020-12-14","o":0.1506,"h":0.1506,"l":0.1446,"c":0.1446},
{"t":"2020-12-21","o":0.1454,"h":0.1454,"l":0.1421,"c":0.1421},
{"t":"2020-12-28","o":0.1424,"h":0.1488,"l":0.1424,"c":0.1488},
{"t":"2021-01-04","o":0.1448,"h":0.1448,"l":0.1346,"c":0.1346},
{"t":"2021-01-11","o":0.1421,"h":0.1421,"l":0.1333,"c":0.1333},
{"t":"2021-01-18","o":0.1383,"h":0.1488,"l":0.1383,"c":0.1488},
{"t":"2021-01-25","o":0.1539,"h":0.1539,"l":0.1391,"c":0.1391},
{"t":"2021-02-01","o":0.1385,"h":0.1488,"l":0.1385,"c":0.1488},
{"t":"2021-02-08","o":0.1454,"h":0.1485,"l":0.1454,"c":0.1485},
{"t":"2021-02-15","o":0.1542,"h":0.1542,"l":0.1466,"c":0.1466},
{"t":"2021-02-22","o":0.1421,"h":0.1497,"l":0.1421,"c":0.1497},
{"t":"2021-03-01","o":0.1493,"h":0.1557,"l":0.1493,"c":0.1557},
{"t":"2021-03-08","o":0.1597,"h":0.1597,"l":0.1519,"c":0.1519},
{"t":"2021-03-15","o":0.1558,"h":0.1677,"l":0.1558,"c":0.1677},
{"t":"2021-03-22","o":0.1713,"h":0.1713,"l":0.1615,"c":0.1615},
{"t":"2021-03-29","o":0.1646,"h":0.1742,"l":0.1646,"c":0.1742},
{"t":"2021-04-05","o":0.1729,"h":0.1813,"l":0.1729,"c":0.1813},
{"t":"2021-04-12","o":0.1803,"h":0.1803,"l":0.1722,"c":0.1722},
{"t":"2021-04-19","o":0.1716,"h":0.1716,"l":0.1661,"c":0.1661},
{"t":"2021-04-26","o":0.1697,"h":0.1859,"l":0.1697,"c":0.1859},
{"t":"2021-05-03","o":0.1847,"h":0.1847,"l":0.1736,"c":0.1736},
{"t":"2021-05-10","o":0.1713,"h":0.1713,"l":0.164,"c":0.164},
{"t":"2021-05-17","o":0.1716,"h":0.1716,"l":0.1627,"c":0.1627},
{"t":"2021-05-24","o":0.1686,"h":0.1749,"l":0.1686,"c":0.1749},
{"t":"2021-05-31","o":0.1711,"h":0.1749,"l":0.1711,"c":0.1749},
{"t":"2021-06-07","o":0.1736,"h":0.1774,"l":0.1736,"c":0.1774},
{"t":"2021-06-14","o":0.1761,"h":0.1899,"l":0.1761,"c":0.1899},
{"t":"2021-06-21","o":0.186,"h":0.1932,"l":0.186,"c":0.1932},
{"t":"2021-06-28","o":0.1918,"h":0.2006,"l":0.1918,"c":0.2006},
{"t":"2021-07-05","o":0.199,"h":0.199,"l":0.1911,"c":0.1911},
{"t":"2021-07-12","o":0.1975,"h":0.1975,"l":0.1873,"c":0.1873},
{"t":"2021-07-19","o":0.1855,"h":0.2073,"l":0.1855,"c":0.2073},
{"t":"2021-07-26","o":0.2086,"h":0.2086,"l":0.1937,"c":0.1937},
{"t":"2021-08-02","o":0.1925,"h":0.2061,"l":0.1925,"c":0.2061},
{"t":"2021-08-09","o":0.2144,"h":0.2144,"l":0.2037,"c":0.2037},
{"t":"2021-08-16","o":0.205,"h":0.205,"l":0.197,"c":0.197},
{"t":"2021-08-23","o":0.2004,"h":0.2058,"l":0.2004,"c":0.2058},
{"t":"2021-08-30","o":0.2048,"h":0.211,"l":0.2048,"c":0.211},
{"t":"2021-09-06","o":0.2061,"h":0.2131,"l":0.2061,"c":0.2131},
{"t":"2021-09-13","o":0.2135,"h":0.2135,"l":0.2057,"c":0.2057},
{"t":"2021-09-20","o":0.205,"h":0.205,"l":0.1929,"c":0.1929},
{"t":"2021-09-27","o":0.2022,"h":0.2022,"l":0.1933,"c":0.1933},
{"t":"2021-10-04","o":0.1918,"h":0.1918,"l":0.1845,"c":0.1845},
{"t":"2021-10-11","o":0.1877,"h":0.1877,"l":0.1814,"c":0.1814},
{"t":"2021-10-18","o":0.194,"h":0.194,"l":0.1803,"c":0.1803},
{"t":"2021-10-25","o":0.1718,"h":0.1826,"l":0.1718,"c":0.1826},
{"t":"2021-11-01","o":0.1814,"h":0.1906,"l":0.1814,"c":0.1906},
{"t":"2021-11-08","o":0.1895,"h":0.1895,"l":0.1761,"c":0.1761},
{"t":"2021-11-15","o":0.181,"h":0.1891,"l":0.181,"c":0.1891},
{"t":"2021-11-22","o":0.1914,"h":0.1914,"l":0.1857,"c":0.1857},
{"t":"2021-11-29","o":0.1895,"h":0.1895,"l":0.1697,"c":0.1697},
{"t":"2021-12-06","o":0.1725,"h":0.1881,"l":0.1725,"c":0.1881},
{"t":"2021-12-13","o":0.1922,"h":0.1922,"l":0.1838,"c":0.1838},
{"t":"2021-12-20","o":0.1806,"h":0.187,"l":0.1806,"c":0.187},
{"t":"2021-12-27","o":0.1936,"h":0.1936,"l":0.1834,"c":0.1834},
{"t":"2022-01-03","o":0.1888,"h":0.1888,"l":0.1784,"c":0.1784},
{"t":"2022-01-10","o":0.1842,"h":0.1842,"l":0.1766,"c":0.1766},
{"t":"2022-01-17","o":0.1777,"h":0.1777,"l":0.1652,"c":0.1652},
{"t":"2022-01-24","o":0.1583,"h":0.1685,"l":0.1583,"c":0.1685},
{"t":"2022-01-31","o":0.1823,"h":0.1823,"l":0.1287,"c":0.1287},
{"t":"2022-02-07","o":0.1316,"h":0.1316,"l":0.1181,"c":0.1181},
{"t":"2022-02-14","o":0.1192,"h":0.1192,"l":0.1086,"c":0.1086},
{"t":"2022-02-21","o":0.1003,"h":0.1115,"l":0.1003,"c":0.1115},
{"t":"2022-02-28","o":0.1106,"h":0.1106,"l":0.1015,"c":0.1015},
{"t":"2022-03-07","o":0.102,"h":0.102,"l":0.0931,"c":0.0931},
{"t":"2022-03-14","o":0.0942,"h":0.1129,"l":0.0942,"c":0.1129},
{"t":"2022-03-21","o":0.1083,"h":0.1148,"l":0.1083,"c":0.1148},
{"t":"2022-03-28","o":0.1135,"h":0.1198,"l":0.1135,"c":0.1198},
{"t":"2022-04-04","o":0.122,"h":0.122,"l":0.114,"c":0.114},
{"t":"2022-04-11","o":0.1129,"h":0.1129,"l":0.1066,"c":0.1066},
{"t":"2022-04-18","o":0.1115,"h":0.1115,"l":0.0953,"c":0.0953},
{"t":"2022-04-25","o":0.0901,"h":0.1109,"l":0.0901,"c":0.1109},
{"t":"2022-05-02","o":0.1061,"h":0.119,"l":0.1061,"c":0.119},
{"t":"2022-05-09","o":0.1013,"h":0.1098,"l":0.1013,"c":0.1098},
{"t":"2022-05-16","o":0.1126,"h":0.1126,"l":0.1026,"c":0.1026},
{"t":"2022-05-23","o":0.1061,"h":0.1061,"l":0.0955,"c":0.0955},
{"t":"2022-05-30","o":0.108,"h":0.108,"l":0.1015,"c":0.1015},
{"t":"2022-06-06","o":0.1087,"h":0.1087,"l":0.0938,"c":0.0938},
{"t":"2022-06-13","o":0.0935,"h":0.0935,"l":0.0866,"c":0.0866},
{"t":"2022-06-20","o":0.0847,"h":0.0934,"l":0.0847,"c":0.0934},
{"t":"2022-06-27","o":0.0939,"h":0.0939,"l":0.0869,"c":0.0869},
{"t":"2022-07-04","o":0.0873,"h":0.099,"l":0.0873,"c":0.099},
{"t":"2022-07-11","o":0.0925,"h":0.0965,"l":0.0925,"c":0.0965},
{"t":"2022-07-18","o":0.0974,"h":0.1082,"l":0.0974,"c":0.1082},
{"t":"2022-07-25","o":0.0984,"h":0.0984,"l":0.0887,"c":0.0887},
{"t":"2022-08-01","o":0.0884,"h":0.0959,"l":0.0884,"c":0.0959},
{"t":"2022-08-08","o":0.0936,"h":0.102,"l":0.0936,"c":0.102},
{"t":"2022-08-15","o":0.1017,"h":0.1017,"l":0.0959,"c":0.0959},
{"t":"2022-08-22","o":0.0973,"h":0.0973,"l":0.0917,"c":0.0917},
{"t":"2022-08-29","o":0.0907,"h":0.0988,"l":0.0907,"c":0.0988},
{"t":"2022-09-05","o":0.0926,"h":0.0986,"l":0.0926,"c":0.0986},
{"t":"2022-09-12","o":0.0988,"h":0.0988,"l":0.0873,"c":0.0873},
{"t":"2022-09-19","o":0.0888,"h":0.0888,"l":0.0847,"c":0.0847},
{"t":"2022-09-26","o":0.0863,"h":0.0863,"l":0.0816,"c":0.0816},
{"t":"2022-10-03","o":0.0827,"h":0.0827,"l":0.0786,"c":0.0786},
{"t":"2022-10-10","o":0.0804,"h":0.0804,"l":0.0741,"c":0.0741},
{"t":"2022-10-17","o":0.0832,"h":0.0832,"l":0.0778,"c":0.0778},
{"t":"2022-10-24","o":0.0834,"h":0.0834,"l":0.0583,"c":0.0583},
{"t":"2022-10-31","o":0.0603,"h":0.0603,"l":0.0541,"c":0.0541},
{"t":"2022-11-07","o":0.056,"h":0.0648,"l":0.056,"c":0.0648},
{"t":"2022-11-14","o":0.0625,"h":0.0664,"l":0.0625,"c":0.0664},
{"t":"2022-11-21","o":0.0641,"h":0.0641,"l":0.0625,"c":0.0625},
{"t":"2022-11-28","o":0.0625,"h":0.069,"l":0.0625,"c":0.069},
{"t":"2022-12-05","o":0.0695,"h":0.0695,"l":0.0637,"c":0.0637},
{"t":"2022-12-12","o":0.0637,"h":0.069,"l":0.0637,"c":0.069},
{"t":"2022-12-19","o":0.0632,"h":0.0661,"l":0.0632,"c":0.0661},
{"t":"2022-12-26","o":0.0641,"h":0.0664,"l":0.0641,"c":0.0664},
{"t":"2023-01-02","o":0.0673,"h":0.0706,"l":0.0673,"c":0.0706},
{"t":"2023-01-09","o":0.0684,"h":0.0726,"l":0.0684,"c":0.0726},
{"t":"2023-01-16","o":0.0699,"h":0.0726,"l":0.0699,"c":0.0726},
{"t":"2023-01-23","o":0.0725,"h":0.0793,"l":0.0725,"c":0.0793},
{"t":"2023-01-30","o":0.0766,"h":0.1028,"l":0.0766,"c":0.1028},
{"t":"2023-02-06","o":0.1031,"h":0.1031,"l":0.0935,"c":0.0935},
{"t":"2023-02-13","o":0.0972,"h":0.0972,"l":0.0929,"c":0.0929},
{"t":"2023-02-20","o":0.0968,"h":0.0968,"l":0.0927,"c":0.0927},
{"t":"2023-02-27","o":0.0935,"h":0.1006,"l":0.0935,"c":0.1006},
{"t":"2023-03-06","o":0.1031,"h":0.1031,"l":0.0963,"c":0.0963},
{"t":"2023-03-13","o":0.0938,"h":0.1069,"l":0.0938,"c":0.1069},
{"t":"2023-03-20","o":0.0988,"h":0.105,"l":0.0988,"c":0.105},
{"t":"2023-03-27","o":0.1017,"h":0.108,"l":0.1017,"c":0.108},
{"t":"2023-04-03","o":0.1037,"h":0.1078,"l":0.1037,"c":0.1078},
{"t":"2023-04-10","o":0.1066,"h":0.1106,"l":0.1066,"c":0.1106},
{"t":"2023-04-17","o":0.1104,"h":0.1104,"l":0.105,"c":0.105},
{"t":"2023-04-24","o":0.1042,"h":0.1207,"l":0.1042,"c":0.1207},
{"t":"2023-05-01","o":0.1229,"h":0.1229,"l":0.1137,"c":0.1137},
{"t":"2023-05-08","o":0.1143,"h":0.1177,"l":0.1143,"c":0.1177},
{"t":"2023-05-15","o":0.1171,"h":0.1266,"l":0.1171,"c":0.1266},
{"t":"2023-05-22","o":0.1241,"h":0.1347,"l":0.1241,"c":0.1347},
{"t":"2023-05-29","o":0.1323,"h":0.14,"l":0.1323,"c":0.14},
{"t":"2023-06-05","o":0.1405,"h":0.1405,"l":0.1333,"c":0.1333},
{"t":"2023-06-12","o":0.1362,"h":0.1462,"l":0.1362,"c":0.1462},
{"t":"2023-06-19","o":0.1427,"h":0.1503,"l":0.1427,"c":0.1503},
{"t":"2023-06-26","o":0.1512,"h":0.1512,"l":0.1447,"c":0.1447},
{"t":"2023-07-03","o":0.1491,"h":0.1547,"l":0.1491,"c":0.1547},
{"t":"2023-07-10","o":0.15,"h":0.1611,"l":0.15,"c":0.1611},
{"t":"2023-07-17","o":0.1608,"h":0.1608,"l":0.1488,"c":0.1488},
{"t":"2023-07-24","o":0.1476,"h":0.1664,"l":0.1476,"c":0.1664},
{"t":"2023-07-31","o":0.1655,"h":0.1655,"l":0.1597,"c":0.1597},
{"t":"2023-08-07","o":0.1641,"h":0.1641,"l":0.1574,"c":0.1574},
{"t":"2023-08-14","o":0.1608,"h":0.1608,"l":0.1455,"c":0.1455},
{"t":"2023-08-21","o":0.1561,"h":0.1561,"l":0.1452,"c":0.1452},
{"t":"2023-08-28","o":0.1494,"h":0.1547,"l":0.1494,"c":0.1547},
{"t":"2023-09-04","o":0.1524,"h":0.1597,"l":0.1524,"c":0.1597},
{"t":"2023-09-11","o":0.1637,"h":0.1637,"l":0.1559,"c":0.1559},
{"t":"2023-09-18","o":0.153,"h":0.1584,"l":0.153,"c":0.1584},
{"t":"2023-09-25","o":0.153,"h":0.1654,"l":0.153,"c":0.1654},
{"t":"2023-10-02","o":0.1636,"h":0.1723,"l":0.1636,"c":0.1723},
{"t":"2023-10-09","o":0.1754,"h":0.1754,"l":0.1626,"c":0.1626},
{"t":"2023-10-16","o":0.1685,"h":0.1685,"l":0.1555,"c":0.1555},
{"t":"2023-10-23","o":0.1608,"h":0.1608,"l":0.1416,"c":0.1416},
{"t":"2023-10-30","o":0.1488,"h":0.1601,"l":0.1488,"c":0.1601},
{"t":"2023-11-06","o":0.1584,"h":0.1695,"l":0.1584,"c":0.1695},
{"t":"2023-11-13","o":0.1667,"h":0.1723,"l":0.1667,"c":0.1723},
{"t":"2023-11-20","o":0.1723,"h":0.1723,"l":0.1685,"c":0.1685},
{"t":"2023-11-27","o":0.1685,"h":0.1685,"l":0.1567,"c":0.1567},
{"t":"2023-12-04","o":0.1494,"h":0.166,"l":0.1494,"c":0.166},
{"t":"2023-12-11","o":0.1618,"h":0.1689,"l":0.1618,"c":0.1689},
{"t":"2023-12-18","o":0.1669,"h":0.1743,"l":0.1669,"c":0.1743},
{"t":"2023-12-25","o":0.174,"h":0.174,"l":0.1709,"c":0.1709},
{"t":"2024-01-01","o":0.1654,"h":0.1723,"l":0.1654,"c":0.1723},
{"t":"2024-01-08","o":0.1735,"h":0.1839,"l":0.1735,"c":0.1839},
{"t":"2024-01-15","o":0.1791,"h":0.1888,"l":0.1791,"c":0.1888},
{"t":"2024-01-22","o":0.1888,"h":0.196,"l":0.1888,"c":0.196},
{"t":"2024-01-29","o":0.1907,"h":0.2363,"l":0.1907,"c":0.2363},
{"t":"2024-02-05","o":0.2233,"h":0.2326,"l":0.2233,"c":0.2326},
{"t":"2024-02-12","o":0.2264,"h":0.2433,"l":0.2264,"c":0.2433},
{"t":"2024-02-19","o":0.2287,"h":0.2418,"l":0.2287,"c":0.2418},
{"t":"2024-02-26","o":0.2363,"h":0.2413,"l":0.2363,"c":0.2413},
{"t":"2024-03-04","o":0.2413,"h":0.2413,"l":0.2305,"c":0.2305},
{"t":"2024-03-11","o":0.2317,"h":0.2317,"l":0.2195,"c":0.2195},
{"t":"2024-03-18","o":0.2242,"h":0.2353,"l":0.2242,"c":0.2353},
{"t":"2024-03-25","o":0.2335,"h":0.2335,"l":0.2173,"c":0.2173},
{"t":"2024-04-01","o":0.2157,"h":0.2299,"l":0.2157,"c":0.2299},
{"t":"2024-04-08","o":0.2272,"h":0.2272,"l":0.2141,"c":0.2141},
{"t":"2024-04-15","o":0.2207,"h":0.2207,"l":0.201,"c":0.201},
{"t":"2024-04-22","o":0.2185,"h":0.2185,"l":0.1797,"c":0.1797},
{"t":"2024-04-29","o":0.1845,"h":0.1964,"l":0.1845,"c":0.1964},
{"t":"2024-05-06","o":0.1975,"h":0.205,"l":0.1975,"c":0.205},
{"t":"2024-05-13","o":0.2018,"h":0.2018,"l":0.1953,"c":0.1953},
{"t":"2024-05-20","o":0.1917,"h":0.205,"l":0.1917,"c":0.205},
{"t":"2024-05-27","o":0.2034,"h":0.2034,"l":0.196,"c":0.196},
{"t":"2024-06-03","o":0.2022,"h":0.215,"l":0.2022,"c":0.215},
{"t":"2024-06-10","o":0.215,"h":0.222,"l":0.215,"c":0.222},
{"t":"2024-06-17","o":0.219,"h":0.219,"l":0.2128,"c":0.2128},
{"t":"2024-06-24","o":0.2133,"h":0.2242,"l":0.2133,"c":0.2242},
{"t":"2024-07-01","o":0.2128,"h":0.2258,"l":0.2128,"c":0.2258},
{"t":"2024-07-08","o":0.2267,"h":0.2267,"l":0.2066,"c":0.2066},
{"t":"2024-07-15","o":0.2082,"h":0.2082,"l":0.1871,"c":0.1871},
{"t":"2024-07-22","o":0.2058,"h":0.2058,"l":0.1878,"c":0.1878},
{"t":"2024-07-29","o":0.1921,"h":0.2142,"l":0.1921,"c":0.2142},
{"t":"2024-08-05","o":0.1845,"h":0.2133,"l":0.1845,"c":0.2133},
{"t":"2024-08-12","o":0.2185,"h":0.2185,"l":0.209,"c":0.209},
{"t":"2024-08-19","o":0.2098,"h":0.2164,"l":0.2098,"c":0.2164},
{"t":"2024-08-26","o":0.2102,"h":0.2102,"l":0.205,"c":0.205},
{"t":"2024-09-02","o":0.2098,"h":0.2098,"l":0.1999,"c":0.1999},
{"t":"2024-09-09","o":0.1984,"h":0.2058,"l":0.1984,"c":0.2058},
{"t":"2024-09-16","o":0.201,"h":0.2164,"l":0.201,"c":0.2164},
{"t":"2024-09-23","o":0.2177,"h":0.2177,"l":0.2113,"c":0.2113},
{"t":"2024-09-30","o":0.2133,"h":0.2245,"l":0.2133,"c":0.2245},
{"t":"2024-10-07","o":0.2267,"h":0.2267,"l":0.2212,"c":0.2212},
{"t":"2024-10-14","o":0.225,"h":0.225,"l":0.2113,"c":0.2113},
{"t":"2024-10-21","o":0.2122,"h":0.2122,"l":0.207,"c":0.207},
{"t":"2024-10-28","o":0.2164,"h":0.2164,"l":0.2058,"c":0.2058},
{"t":"2024-11-04","o":0.2042,"h":0.2194,"l":0.2042,"c":0.2194},
{"t":"2024-11-11","o":0.228,"h":0.228,"l":0.2157,"c":0.2157},
{"t":"2024-11-18","o":0.2173,"h":0.2173,"l":0.2054,"c":0.2054},
{"t":"2024-11-25","o":0.2066,"h":0.2185,"l":0.2066,"c":0.2185},
{"t":"2024-12-02","o":0.2173,"h":0.238,"l":0.2173,"c":0.238},
{"t":"2024-12-09","o":0.2358,"h":0.2358,"l":0.2299,"c":0.2299},
{"t":"2024-12-16","o":0.2376,"h":0.2376,"l":0.2229,"c":0.2229},
{"t":"2024-12-23","o":0.2242,"h":0.2322,"l":0.2242,"c":0.2322},
{"t":"2024-12-30","o":0.2233,"h":0.2291,"l":0.2233,"c":0.2291},
{"t":"2025-01-06","o":0.2395,"h":0.2395,"l":0.2242,"c":0.2242},
{"t":"2025-01-13","o":0.2212,"h":0.2308,"l":0.2212,"c":0.2308},
{"t":"2025-01-20","o":0.2245,"h":0.2339,"l":0.2245,"c":0.2339},
{"t":"2025-01-27","o":0.226,"h":0.254,"l":0.226,"c":0.254},
{"t":"2025-02-03","o":0.241,"h":0.251,"l":0.241,"c":0.251},
{"t":"2025-02-10","o":0.2451,"h":0.2555,"l":0.2451,"c":0.2555},
{"t":"2025-02-17","o":0.254,"h":0.254,"l":0.2326,"c":0.2326},
{"t":"2025-02-24","o":0.222,"h":0.2358,"l":0.222,"c":0.2358},
{"t":"2025-03-03","o":0.2358,"h":0.2358,"l":0.2078,"c":0.2078},
{"t":"2025-03-10","o":0.216,"h":0.216,"l":0.1975,"c":0.1975},
{"t":"2025-03-17","o":0.2042,"h":0.2042,"l":0.1904,"c":0.1904},
{"t":"2025-03-24","o":0.2094,"h":0.2094,"l":0.1863,"c":0.1863},
{"t":"2025-03-31","o":0.1884,"h":0.1884,"l":0.1627,"c":0.1627},
{"t":"2025-04-07","o":0.1593,"h":0.19,"l":0.1593,"c":0.19},
{"t":"2025-04-14","o":0.1722,"h":0.1722,"l":0.1506,"c":0.1506},
{"t":"2025-04-21","o":0.1418,"h":0.1652,"l":0.1418,"c":0.1652},
{"t":"2025-04-28","o":0.1621,"h":0.1848,"l":0.1621,"c":0.1848},
{"t":"2025-05-05","o":0.1827,"h":0.1827,"l":0.1711,"c":0.1711},
{"t":"2025-05-12","o":0.1896,"h":0.2079,"l":0.1896,"c":0.2079},
{"t":"2025-05-19","o":0.1982,"h":0.1982,"l":0.1863,"c":0.1863},
{"t":"2025-05-26","o":0.1896,"h":0.1982,"l":0.1896,"c":0.1982},
{"t":"2025-06-02","o":0.1955,"h":0.211,"l":0.1955,"c":0.211},
{"t":"2025-06-09","o":0.2118,"h":0.2118,"l":0.1985,"c":0.1985},
{"t":"2025-06-16","o":0.2082,"h":0.2082,"l":0.2022,"c":0.2022},
{"t":"2025-06-23","o":0.2026,"h":0.2242,"l":0.2026,"c":0.2242},
{"t":"2025-06-30","o":0.2272,"h":0.2272,"l":0.2128,"c":0.2128},
{"t":"2025-07-07","o":0.2233,"h":0.2233,"l":0.2136,"c":0.2136},
{"t":"2025-07-14","o":0.2164,"h":0.2164,"l":0.2082,"c":0.2082},
{"t":"2025-07-21","o":0.2058,"h":0.2141,"l":0.2058,"c":0.2141},
{"t":"2025-07-28","o":0.2102,"h":0.2367,"l":0.2102,"c":0.2367},
{"t":"2025-08-04","o":0.2242,"h":0.2308,"l":0.2242,"c":0.2308},
{"t":"2025-08-11","o":0.2264,"h":0.2376,"l":0.2264,"c":0.2376},
{"t":"2025-08-18","o":0.2322,"h":0.2322,"l":0.2204,"c":0.2204},
{"t":"2025-08-25","o":0.2245,"h":0.2245,"l":0.2141,"c":0.2141},
{"t":"2025-09-01","o":0.207,"h":0.2137,"l":0.207,"c":0.2137},
{"t":"2025-09-08","o":0.2114,"h":0.2114,"l":0.205,"c":0.205},
{"t":"2025-09-15","o":0.2074,"h":0.216,"l":0.2074,"c":0.216},
{"t":"2025-09-22","o":0.2122,"h":0.2122,"l":0.1975,"c":0.1975},
{"t":"2025-09-29","o":0.199,"h":0.199,"l":0.1827,"c":0.1827},
{"t":"2025-10-06","o":0.1845,"h":0.1845,"l":0.1755,"c":0.1755},
{"t":"2025-10-13","o":0.1785,"h":0.1785,"l":0.1634,"c":0.1634},
{"t":"2025-10-20","o":0.1676,"h":0.1809,"l":0.1676,"c":0.1809},
{"t":"2025-10-27","o":0.192,"h":0.192,"l":0.1618,"c":0.1618},
{"t":"2025-11-03","o":0.164,"h":0.164,"l":0.1515,"c":0.1515},
{"t":"2025-11-10","o":0.1578,"h":0.1578,"l":0.1444,"c":0.1444},
{"t":"2025-11-17","o":0.1492,"h":0.1492,"l":0.1434,"c":0.1434},
{"t":"2025-11-24","o":0.1471,"h":0.1545,"l":0.1471,"c":0.1545},
{"t":"2025-12-01","o":0.1512,"h":0.1609,"l":0.1512,"c":0.1609},
{"t":"2025-12-08","o":0.1634,"h":0.1634,"l":0.151,"c":0.151},
{"t":"2025-12-15","o":0.1492,"h":0.1542,"l":0.1492,"c":0.1542},
{"t":"2025-12-22","o":0.1526,"h":0.1526,"l":0.1462,"c":0.1462},
{"t":"2025-12-29","o":0.1451,"h":0.1545,"l":0.1451,"c":0.1545},
{"t":"2026-01-05","o":0.1502,"h":0.1502,"l":0.1451,"c":0.1451},
{"t":"2026-01-12","o":0.1449,"h":0.1449,"l":0.1332,"c":0.1332},
{"t":"2026-01-19","o":0.1263,"h":0.1337,"l":0.1263,"c":0.1337},
{"t":"2026-01-26","o":0.1236,"h":0.1523,"l":0.1236,"c":0.1523},
{"t":"2026-02-02","o":0.16,"h":0.16,"l":0.1329,"c":0.1329},
{"t":"2026-02-09","o":0.1331,"h":0.1348,"l":0.1326,"c":0.1326}
]},
"layer":[
{"data":{"name":"bars"},
 "mark":{"type":"rule","strokeWidth":1.3},
 "encoding":{
  "x":{"field":"t","type":"temporal",
   "scale":{"type":"utc","domain":[{"year":2013,"month":11,"date":13,"hours":9,"utc":true},{"year":2031,"month":1,"date":21,"hours":17,"utc":true}],"nice":false},
   "axis":{"orient":"bottom","offset":-22,"domain":false,"ticks":false,"grid":false,"labelPadding":1,"labelFlush":false,"labelOverlap":false,"labelBound":false,
    "labelFont":"Liberation Sans","labelFontSize":12,"labelColor":"#d1d4dc",
    "values":[{"year":2014,"month":1,"date":6,"utc":true},{"year":2014,"month":7,"date":7,"utc":true},{"year":2015,"month":1,"date":5,"utc":true},{"year":2015,"month":7,"date":6,"utc":true},{"year":2016,"month":1,"date":4,"utc":true},{"year":2016,"month":7,"date":4,"utc":true},{"year":2017,"month":1,"date":2,"utc":true},{"year":2017,"month":7,"date":3,"utc":true},{"year":2018,"month":1,"date":1,"utc":true},{"year":2018,"month":7,"date":2,"utc":true},{"year":2019,"month":1,"date":7,"utc":true},{"year":2019,"month":7,"date":1,"utc":true},{"year":2020,"month":1,"date":6,"utc":true},{"year":2020,"month":7,"date":6,"utc":true},{"year":2021,"month":1,"date":4,"utc":true},{"year":2021,"month":7,"date":5,"utc":true},{"year":2022,"month":1,"date":3,"utc":true},{"year":2022,"month":7,"date":4,"utc":true},{"year":2023,"month":1,"date":2,"utc":true},{"year":2023,"month":7,"date":3,"utc":true},{"year":2024,"month":1,"date":1,"utc":true},{"year":2024,"month":7,"date":1,"utc":true},{"year":2025,"month":1,"date":6,"utc":true},{"year":2025,"month":7,"date":7,"utc":true},{"year":2026,"month":1,"date":5,"utc":true},{"year":2026,"month":7,"date":6,"utc":true},{"year":2027,"month":1,"date":4,"utc":true},{"year":2027,"month":7,"date":5,"utc":true},{"year":2028,"month":1,"date":3,"utc":true},{"year":2028,"month":7,"date":3,"utc":true},{"year":2029,"month":1,"date":1,"utc":true},{"year":2029,"month":7,"date":2,"utc":true},{"year":2030,"month":1,"date":7,"utc":true},{"year":2030,"month":7,"date":1,"utc":true}],
    "labelExpr":"utcmonth(datum.value) == 0 ? utcFormat(datum.value, '%Y') : (utcyear(datum.value) == 2030 ? 'Ju' : 'Jul')",
    "title":"TradingView","titleX":39,"titleY":53,"titleAlign":"left","titleAngle":0,"titleBaseline":"middle","titleFont":"Open Sans","titleFontSize":19,"titleFontWeight":600,"titleColor":"#e6e6e6"}},
  "y":{"field":"l","type":"quantitative",
   "scale":{"type":"log","domain":[0.035079,0.34832],"nice":false,"zero":false},
   "axis":{"orient":"right","offset":-51,"domain":false,"ticks":false,"grid":false,"labelPadding":0,"labelAlign":"left","labelFont":"Liberation Sans","labelFontSize":12,"labelColor":"#d1d4dc","format":".4f","labelOverlap":false,"labelBound":false,"labelFlush":false,
    "values":[0.04,0.05,0.06,0.07,0.08,0.09,0.1,0.11,0.12,0.13,0.14,0.15,0.16,0.18,0.2,0.22,0.24,0.26,0.28,0.3,0.32,0.34],
    "title":"17","titleX":-1848,"titleY":1208,"titleAlign":"left","titleAngle":0,"titleBaseline":"middle","titleFont":"DejaVu Sans","titleFontSize":21,"titleFontWeight":"bold","titleColor":"#e6e6e6"}},
  "y2":{"field":"h"},
  "color":{"condition":{"test":"datum.c < datum.o","value":"#f23645"},"value":"#089981"}}},
{"data":{"values":[{}]},"mark":{"type":"text","text":"META/GOLD · 1W · NASDAQ","color":"#e6e8ee","fontSize":11},
 "encoding":{"x":{"datum":{"year":2013,"month":12,"date":7,"hours":12,"utc":true},"type":"temporal"},"y":{"datum":0.3391,"type":"quantitative"}}},
{"data":{"values":[{}]},"mark":{"type":"text","text":"O","color":"#e6e8ee"},
 "encoding":{"x":{"datum":{"year":2015,"month":5,"date":1,"hours":10,"utc":true},"type":"temporal"},"y":{"datum":0.3391,"type":"quantitative"}}},
{"data":{"values":[{}]},"mark":{"type":"text","text":"0.1331","color":"#f23645"},
 "encoding":{"x":{"datum":{"year":2015,"month":5,"date":28,"hours":19,"utc":true},"type":"temporal"},"y":{"datum":0.3391,"type":"quantitative"}}},
{"data":{"values":[{}]},"mark":{"type":"text","text":"H","color":"#e6e8ee"},
 "encoding":{"x":{"datum":{"year":2015,"month":10,"date":16,"hours":21,"utc":true},"type":"temporal"},"y":{"datum":0.3391,"type":"quantitative"}}},
{"data":{"values":[{}]},"mark":{"type":"text","text":"0.1348","color":"#f23645"},
 "encoding":{"x":{"datum":{"year":2015,"month":11,"date":15,"hours":14,"utc":true},"type":"temporal"},"y":{"datum":0.3391,"type":"quantitative"}}},
{"data":{"values":[{}]},"mark":{"type":"text","text":"L","color":"#e6e8ee"},
 "encoding":{"x":{"datum":{"year":2016,"month":4,"date":3,"hours":7,"utc":true},"type":"temporal"},"y":{"datum":0.3391,"type":"quantitative"}}},
{"data":{"values":[{}]},"mark":{"type":"text","text":"0.1326","color":"#f23645"},
 "encoding":{"x":{"datum":{"year":2016,"month":4,"date":25,"hours":10,"utc":true},"type":"temporal"},"y":{"datum":0.3391,"type":"quantitative"}}},
{"data":{"values":[{}]},"mark":{"type":"text","text":"C","color":"#e6e8ee"},
 "encoding":{"x":{"datum":{"year":2016,"month":9,"date":13,"hours":2,"utc":true},"type":"temporal"},"y":{"datum":0.3391,"type":"quantitative"}}},
{"data":{"values":[{}]},"mark":{"type":"text","text":"0.1326","color":"#f23645"},
 "encoding":{"x":{"datum":{"year":2016,"month":10,"date":8,"hours":17,"utc":true},"type":"temporal"},"y":{"datum":0.3391,"type":"quantitative"}}}
]
}
